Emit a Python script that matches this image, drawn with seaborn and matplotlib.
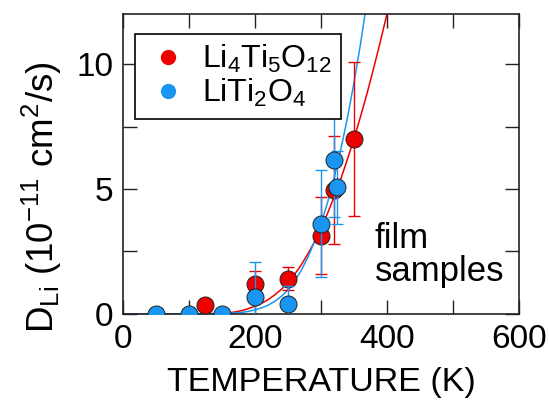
import numpy as np
import pandas as pd
import matplotlib
matplotlib.use("Agg")
import matplotlib.pyplot as plt
from matplotlib.lines import Line2D
from matplotlib.ticker import MultipleLocator
import seaborn as sns

# measured points (temperature in K, D_Li in 1e-11 cm^2/s)
lto_temp = [125, 200, 250, 300, 320, 350]
lto_d = [0.36, 1.18, 1.41, 3.12, 4.97, 7.0]
lto_err = [0.0, 0.53, 0.45, 1.54, 2.17, 3.07]

lt2o_temp = [50, 100, 150, 200, 250, 300, 320, 325]
lt2o_d = [0.0, 0.0, 0.0, 0.69, 0.40, 3.61, 6.16, 5.07]
lt2o_err = [0.0, 0.0, 0.0, 1.39, 0.70, 2.15, 2.28, 1.46]

# fitted curves
lto_fit_temp = [0, 100, 150, 160, 170, 180, 190, 200, 210, 220, 230, 240, 250, 260,
                270, 280, 290, 300, 310, 320, 330, 340, 350, 360, 370, 380, 390, 400, 410]
lto_fit_d = [0.0, 0.0, 0.02, 0.04, 0.08, 0.13, 0.21, 0.31, 0.42, 0.57, 0.76, 0.98, 1.25, 1.58,
             1.95, 2.39, 2.87, 3.42, 4.02, 4.68, 5.39, 6.17, 7.0, 7.89, 8.83, 9.84, 10.89, 11.99, 13.14]
lt2o_fit_temp = [0, 100, 150, 160, 170, 180, 190, 200, 210, 220, 230, 240, 250, 260,
                 270, 280, 290, 300, 310, 320, 330, 340, 350, 360, 370]
lt2o_fit_d = [0.0, 0.0, 0.01, 0.02, 0.04, 0.06, 0.10, 0.16, 0.24, 0.35, 0.50, 0.70, 0.96, 1.31,
              1.73, 2.25, 2.87, 3.6, 4.45, 5.44, 6.56, 7.82, 9.23, 10.8, 12.53]

labels = [r"Li$_4$Ti$_5$O$_{12}$", r"LiTi$_2$O$_4$"]
colors = ["#ee0000", "#1a96f2"]

sns.set_theme(style="ticks")
plt.rcParams["font.family"] = ["Liberation Sans", "DejaVu Sans"]
plt.rcParams["mathtext.fontset"] = "custom"
plt.rcParams["mathtext.rm"] = "Liberation Sans"
plt.rcParams["mathtext.it"] = "Liberation Sans"
plt.rcParams["mathtext.default"] = "regular"
plt.rcParams["text.color"] = "black"
plt.rcParams["axes.labelcolor"] = "black"

fig = plt.figure(figsize=(5.49, 4.04), dpi=100)
ax = fig.add_axes([0.224, 0.223, 0.721, 0.742])

fit_df = pd.concat([
    pd.DataFrame({"T": lto_fit_temp, "D": lto_fit_d, "s": labels[0]}),
    pd.DataFrame({"T": lt2o_fit_temp, "D": lt2o_fit_d, "s": labels[1]}),
])
sns.lineplot(data=fit_df, x="T", y="D", hue="s", palette=colors, lw=1.1,
             legend=False, ax=ax, zorder=1, sort=False)

pts = [(lto_temp, lto_d, lto_err), (lt2o_temp, lt2o_d, lt2o_err)]
for i, (t, d, e) in enumerate(pts):
    e = np.array(e)
    has = e > 0
    ax.errorbar(np.array(t)[has], np.array(d)[has], yerr=e[has], fmt="none",
                ecolor=colors[i], elinewidth=1.0, capsize=4, capthick=1.0, zorder=2 + 2 * i)
    sns.scatterplot(x=t, y=d, color=colors[i], s=150, edgecolor="#222222",
                    linewidth=0.7, ax=ax, zorder=3 + 2 * i, legend=False)

ax.set_xlim(0, 600)
ax.set_ylim(0, 12)
ax.xaxis.set_major_locator(MultipleLocator(200))
ax.xaxis.set_minor_locator(MultipleLocator(100))
ax.yaxis.set_major_locator(MultipleLocator(5))
ax.yaxis.set_minor_locator(MultipleLocator(2.5))
ax.tick_params(which="both", direction="in", top=True, right=True, length=10,
               width=1.0, colors="#222222", labelcolor="black")
ax.tick_params(axis="both", which="major", labelsize=24)
ax.tick_params(axis="x", pad=7)
ax.tick_params(axis="y", pad=7)
for sp in ax.spines.values():
    sp.set_linewidth(1.2)
    sp.set_color("#222222")

ax.set_xlabel("TEMPERATURE (K)", fontsize=24.5, labelpad=9)
ax.set_ylabel(r"D$_{Li}$ (10$^{-11}$ cm$^2$/s)", fontsize=26.5)
ax.yaxis.set_label_coords(-0.15, 0.39)

ax.text(382, 1.05, "film\nsamples", fontsize=25, ha="left", va="bottom", linespacing=1.0)

handles = [Line2D([], [], marker="o", ls="none", color=c, markersize=11, markeredgewidth=0)
           for c in colors]
leg = ax.legend(handles, labels, loc="upper left", bbox_to_anchor=(0.03, 0.935),
                fontsize=23, frameon=True, fancybox=False, handletextpad=0.3,
                borderpad=0.3, labelspacing=0.05, borderaxespad=0, handlelength=1.5)
leg.get_frame().set_edgecolor("black")
leg.get_frame().set_linewidth(1.2)
leg.get_frame().set_alpha(1)

fig.savefig("out.png", dpi=100)
